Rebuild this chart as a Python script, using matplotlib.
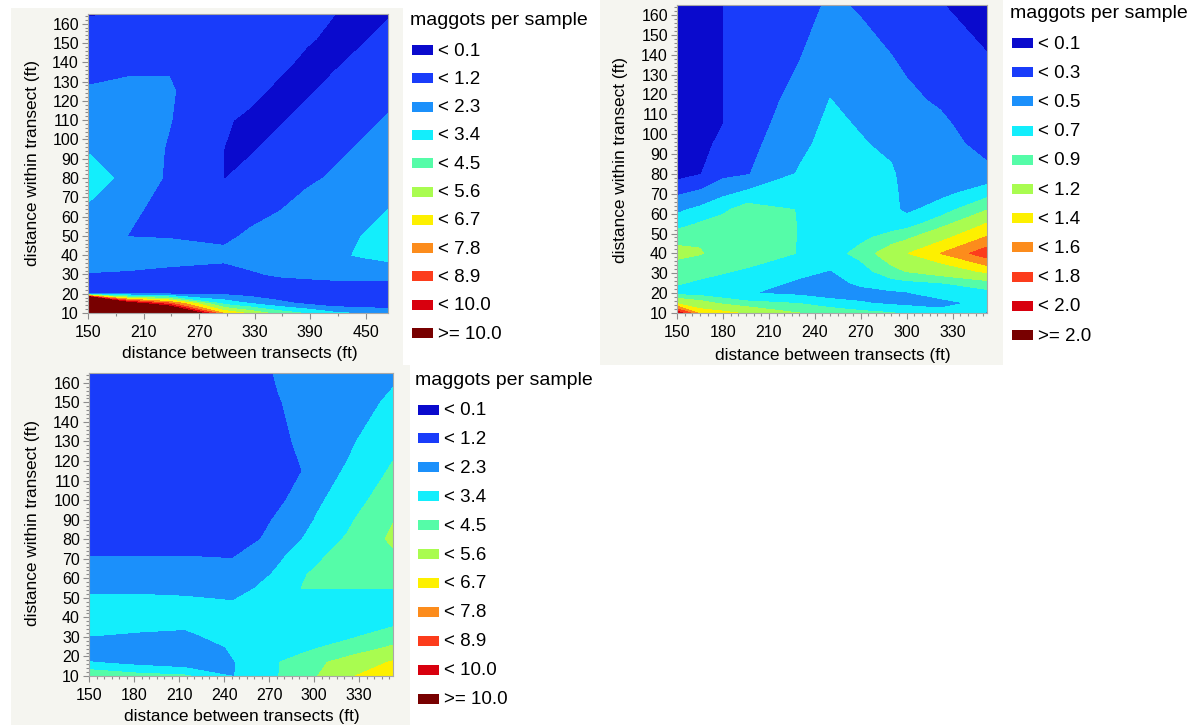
import matplotlib
matplotlib.use("Agg")
import matplotlib.pyplot as plt
from matplotlib.patches import Rectangle
from matplotlib.ticker import FixedLocator

plt.rcParams['font.family'] = ['Liberation Sans', 'DejaVu Sans']

W, H = 1198, 725

# jmp style colours, one per class (lowest -> highest)
class_colors = ['#0a0acd', '#193cfa', '#1b90fb', '#13eefc', '#55fca8', '#a9fc50',
                '#fdf000', '#fc8c1c', '#fc3c1c', '#d8000e', '#780000']

levels_a = [0.1, 1.2, 2.3, 3.4, 4.5, 5.6, 6.7, 7.8, 8.9, 10.0]
levels_b = [0.1, 0.3, 0.5, 0.7, 0.9, 1.2, 1.4, 1.6, 1.8, 2.0]

# ---- panel 1 (top left) : maggots per sample on a grid, rows = y1
x1 = [150, 194, 238, 297, 326, 356, 386, 415, 445, 474]
y1 = [10, 15, 20, 30, 40, 50, 65, 80, 95, 110, 125, 140, 152, 165]
z1 = [
    [61, 21, 15, 6.5, 5.25, 4.0, 3.25, 2.5, 2.15, 1.8],
    [31, 11, 8, 3.0, 2.25, 1.5, 1.0, 0.5, 0.5, 0.5],
    [1.0, 1.0, 1.0, 1.0, 0.75, 0.5, 0.5, 0.5, 0.5, 0.5],
    [1.15, 1.1, 1.0, 0.9, 1.1, 1.3, 1.4, 1.5, 1.5, 1.5],
    [1.7, 1.6, 1.5, 1.4, 1.55, 1.7, 1.9, 2.1, 2.4, 2.7],
    [1.8, 1.18, 1.15, 1.0, 1.35, 1.7, 1.8, 1.9, 2.3, 2.8],
    [2.19, 1.4, 0.9, 0.6, 0.85, 1.1, 1.55, 1.9, 2.1, 2.25],
    [3.0, 1.9, 1.05, 0.082, 0.315, 0.656, 0.996, 1.325, 1.67, 2.0],
    [2.19, 1.9, 1.1, 0.097, 0.038, 0.30, 0.64, 0.97, 1.3, 1.6],
    [1.8, 1.8, 1.25, 0.15, 0.01, 0.03, 0.285, 0.614, 0.954, 1.28],
    [1.3, 1.5, 1.3, 0.4, 0.21, 0.01, 0.025, 0.259, 0.6, 0.93],
    [0.8, 0.9, 1.1, 0.5, 0.45, 0.21, 0.01, 0.013, 0.243, 0.57],
    [0.44, 0.54, 0.86, 0.5, 0.5, 0.45, 0.15, 0.01, 0.0375, 0.287],
    [0.05, 0.15, 0.6, 0.5, 0.5, 0.5, 0.41, 0.11, 0.01, 0.0465],
]

# ---- panel 2 (top right)
x2 = [150, 165, 180, 196, 230, 250, 270, 290, 300, 322, 352.5]
y2 = [10, 15, 20, 25, 31, 40, 48, 55, 62, 70, 80, 95, 105, 117, 140, 165]
z2 = [
    [1.95, 1.35, 1.28, 1.15, 0.9, 0.82, 0.76, 0.71, 0.67, 0.58, 0.49],
    [1.15, 1.0, 0.85, 0.75, 0.69, 0.6, 0.52, 0.46, 0.44, 0.42, 0.57],
    [0.62, 0.6, 0.55, 0.51, 0.45, 0.38, 0.4, 0.46, 0.48, 0.6, 0.64],
    [0.72, 0.66, 0.62, 0.6, 0.46, 0.4, 0.55, 0.62, 0.64, 0.69, 0.8],
    [0.8, 0.78, 0.72, 0.67, 0.56, 0.49, 0.62, 0.82, 0.91, 1.02, 1.25],
    [0.95, 0.91, 0.85, 0.82, 0.69, 0.62, 0.76, 1.056, 1.19, 1.4, 1.72],
    [0.85, 0.88, 0.86, 0.85, 0.69, 0.62, 0.66, 0.77, 0.85, 1.13, 1.42],
    [0.59, 0.72, 0.78, 0.85, 0.69, 0.62, 0.63, 0.6, 0.62, 0.8, 1.21],
    [0.464, 0.545, 0.66, 0.8, 0.69, 0.62, 0.6, 0.56, 0.45, 0.61, 0.89],
    [0.277, 0.35, 0.46, 0.55, 0.69, 0.62, 0.58, 0.55, 0.44, 0.44, 0.637],
    [0.024, 0.09, 0.25, 0.287, 0.52, 0.6, 0.56, 0.53, 0.42, 0.42, 0.345],
    [0.02, 0.03, 0.155, 0.24, 0.45, 0.57, 0.52, 0.45, 0.38, 0.37, 0.24],
    [0.02, 0.03, 0.098, 0.22, 0.4, 0.55, 0.48, 0.41, 0.35, 0.33, 0.21],
    [0.02, 0.03, 0.098, 0.2, 0.36, 0.505, 0.42, 0.37, 0.33, 0.28, 0.17],
    [0.02, 0.03, 0.098, 0.2, 0.29, 0.4, 0.36, 0.3, 0.27, 0.2, 0.105],
    [0.02, 0.03, 0.098, 0.2, 0.22, 0.33, 0.28, 0.24, 0.2, 0.11, 0.0],
]

# ---- panel 3 (bottom left)
x3 = [150, 182, 214, 246, 264, 276, 292, 302, 322, 352.5]
y3 = [10, 17, 25, 31, 36, 40, 48, 55, 62, 71, 80, 90, 100, 115, 130, 150, 165]
z3 = [
    [4.3, 3.8, 3.55, 2.25, 3.0, 3.38, 4.0, 4.48, 5.4, 6.5],
    [2.35, 1.9, 1.5, 2.25, 2.9, 3.38, 3.8, 4.3, 4.9, 5.7],
    [1.68, 1.7, 1.55, 2.45, 2.9, 3.0, 3.1, 3.3, 3.8, 4.6],
    [2.35, 2.2, 2.1, 2.8, 2.9, 2.95, 2.9, 2.9, 3.1, 3.9],
    [2.6, 2.55, 2.46, 2.8, 2.9, 2.9, 2.9, 2.9, 2.95, 3.3],
    [2.8, 2.8, 2.75, 2.8, 2.9, 2.9, 2.9, 2.9, 2.9, 3.0],
    [2.6, 2.6, 2.5, 2.35, 2.75, 2.85, 3.0, 3.0, 3.0, 3.0],
    [2.0, 2.05, 2.0, 1.65, 2.45, 2.7, 3.42, 3.42, 3.42, 3.42],
    [1.8, 1.8, 1.8, 1.45, 2.0, 2.5, 3.3, 3.6, 3.8, 3.9],
    [1.21, 1.21, 1.21, 1.17, 1.6, 2.1, 2.8, 3.2, 4.0, 4.3],
    [0.7, 0.7, 0.7, 0.9, 1.19, 1.75, 2.3, 2.9, 3.5, 4.7],
    [0.6, 0.6, 0.6, 0.7, 0.9, 1.35, 1.9, 2.4, 3.2, 4.45],
    [0.6, 0.6, 0.6, 0.6, 0.8, 1.0, 1.6, 2.1, 2.9, 4.0],
    [0.6, 0.6, 0.6, 0.6, 0.7, 0.8, 1.2, 1.85, 2.4, 3.55],
    [0.6, 0.6, 0.6, 0.6, 0.7, 0.8, 1.5, 1.8, 2.1, 3.1],
    [0.6, 0.6, 0.6, 0.6, 0.7, 1.1, 1.7, 1.8, 1.9, 2.45],
    [0.6, 0.6, 0.6, 0.6, 0.7, 1.4, 1.8, 1.8, 1.8, 2.15],
]

xlabel = 'distance between transects (ft)'
ylabel = 'distance within transect (ft)'
legend_title = 'maggots per sample'
GRAY = '#f5f5f0'


def legend_labels(lev):
    return ['< %.1f' % v for v in lev] + ['>= %.1f' % lev[-1]]


fig = plt.figure(figsize=(W / 100, H / 100), dpi=100, facecolor='white')

# background layer in pixel coords (panels, labels, legends)
bg = fig.add_axes([0, 0, 1, 1])
bg.set_xlim(0, W)
bg.set_ylim(H, 0)
bg.axis('off')
for (px, py, pw, ph) in [(11, 8, 392, 357), (600, 0, 403, 365), (11, 365, 399, 360)]:
    bg.add_patch(Rectangle((px, py), pw, ph, facecolor=GRAY, edgecolor='none'))


def panel(box, x, y, z, lev, xmax, xmaj, xmin):
    l, t, r, b = box
    ax = fig.add_axes([l / W, 1 - b / H, (r - l) / W, (b - t) / H])
    ax.contourf(x, y, z, levels=[-1] + lev + [1000], colors=class_colors)
    ax.set_xlim(150, xmax)
    ax.set_ylim(10, 165)
    ax.xaxis.set_major_locator(FixedLocator(xmaj))
    ax.xaxis.set_minor_locator(FixedLocator(xmin))
    ax.yaxis.set_major_locator(FixedLocator(range(10, 161, 10)))
    ax.yaxis.set_minor_locator(FixedLocator(range(10, 165, 2)))
    ax.tick_params(which='both', direction='out', color='#8c8c8c', width=0.8)
    ax.tick_params(which='major', length=4.5, labelsize=11.5)
    ax.tick_params(which='minor', length=2.2)
    ax.tick_params(axis='x', pad=4)
    ax.tick_params(axis='y', pad=2)
    for s in ax.spines.values():
        s.set_color('#a8a8a8')
        s.set_linewidth(0.8)
    return ax


def legend(tx, ty, sx, y0, step, lev):
    bg.text(tx, ty, legend_title, fontsize=14, ha='left', va='center')
    for i, lab in enumerate(legend_labels(lev)):
        yc = y0 + i * step
        bg.add_patch(Rectangle((sx, yc - 5), 21, 10, facecolor=class_colors[i],
                               edgecolor='none'))
        bg.text(sx + 26, yc + 1, lab, fontsize=13.5, ha='left', va='center')


panel((88, 14, 388, 313), x1, y1, z1, levels_a, 474,
      list(range(150, 475, 60)), list(range(180, 475, 60)))
panel((677, 5, 987, 313), x2, y2, z2, levels_b, 352.5,
      list(range(150, 353, 30)), list(range(150, 353, 5)))
panel((89, 373, 393, 676), x3, y3, z3, levels_a, 352.5,
      list(range(150, 353, 30)), list(range(150, 353, 5)))

# axis titles
for (cx, cy) in [(240, 353), (833, 355), (242, 716)]:
    bg.text(cx, cy, xlabel, fontsize=12.4, ha='center', va='center')
for (cx, cy) in [(33, 163), (621, 160), (33, 523)]:
    bg.text(cx, cy, ylabel, fontsize=12.4, ha='center', va='center', rotation=90)

legend(410, 20, 412, 50, 28.3, levels_a)
legend(1010, 13, 1012, 43, 29.2, levels_b)
legend(415, 380, 418, 409.5, 28.9, levels_a)

fig.savefig('out.png', dpi=100, facecolor='white')
